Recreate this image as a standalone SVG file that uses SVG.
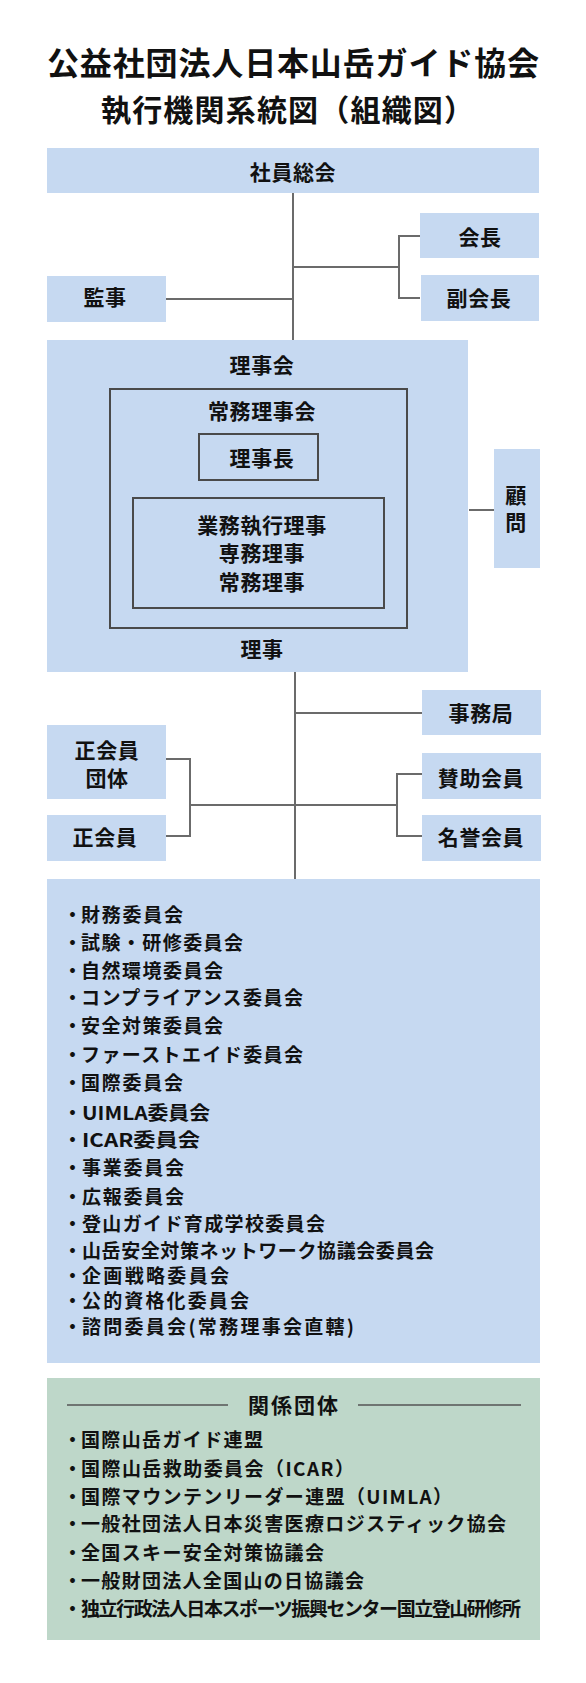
<svg xmlns="http://www.w3.org/2000/svg" width="586" height="1683" viewBox="0 0 586 1683">
<style>
text{font-family:"Noto Sans CJK JP","Noto Sans CJK SC",sans-serif;font-weight:700;fill:#111}
.box{fill:#c6d9f1}
.grn{fill:#bed7c9}
.inner{fill:none;stroke:#4a4a4a;stroke-width:2}
.lbl{font-size:21px;text-anchor:middle;letter-spacing:0.6px}
.item{font-size:19px}
.title{font-size:32px;text-anchor:start}
.conn line,.conn polyline{stroke:#6b6b6b;stroke-width:2;fill:none}
.rule{stroke:#555;stroke-width:1.5}
</style>
<rect width="586" height="1683" fill="#ffffff"/>

<g id="title">
<text class="title" x="47" y="75" textLength="492" lengthAdjust="spacing">公益社団法人日本山岳ガイド協会</text>
<text class="title" x="101" y="121" style="font-size:30px" textLength="373" lengthAdjust="spacing">執行機関系統図（組織図）</text>
</g>

<g class="conn" id="connectors">
<line x1="293" y1="193" x2="293" y2="340"/>
<line x1="166" y1="299" x2="293" y2="299"/>
<line x1="293" y1="267" x2="399" y2="267"/>
<polyline points="420,236 399,236 399,298 420,298"/>
<line x1="469" y1="510" x2="494" y2="510"/>
<line x1="295" y1="672" x2="295" y2="879"/>
<line x1="295" y1="713" x2="422" y2="713"/>
<line x1="190" y1="805" x2="397" y2="805"/>
<polyline points="166,759 190,759 190,836 166,836"/>
<polyline points="422,774 397,774 397,836 422,836"/>
</g>

<g id="shain-sokai">
<rect class="box" x="47" y="148" width="492" height="45"/>
<text class="lbl" x="293" y="180">社員総会</text>
</g>
<g id="kaicho">
<rect class="box" x="420" y="213" width="119" height="45"/>
<text class="lbl" x="480" y="245">会長</text>
</g>
<g id="fuku-kaicho">
<rect class="box" x="421" y="275" width="118" height="46"/>
<text class="lbl" x="479" y="306">副会長</text>
</g>
<g id="kanji">
<rect class="box" x="47" y="276" width="119" height="46"/>
<text class="lbl" x="105" y="305">監事</text>
</g>

<g id="rijikai">
<rect class="box" x="47" y="340" width="421" height="332"/>
<text class="lbl" x="262" y="373">理事会</text>
<text class="lbl" x="262" y="657">理事</text>
</g>
<g id="jomu-rijikai">
<rect class="inner" x="110" y="389" width="297" height="239"/>
<text class="lbl" x="262" y="419">常務理事会</text>
</g>
<g id="rijicho">
<rect class="inner" x="199" y="434" width="119" height="46"/>
<text class="lbl" x="262" y="466">理事長</text>
</g>
<g id="gyomu-shikko">
<rect class="inner" x="133" y="498" width="251" height="110"/>
<text class="lbl" x="262" y="533">業務執行理事</text>
<text class="lbl" x="262" y="561">専務理事</text>
<text class="lbl" x="262" y="590">常務理事</text>
</g>
<g id="komon">
<rect class="box" x="494" y="449" width="46" height="119"/>
<text class="lbl" x="516" y="503">顧</text>
<text class="lbl" x="516" y="530">問</text>
</g>

<g id="jimukyoku">
<rect class="box" x="422" y="690" width="119" height="45"/>
<text class="lbl" x="481" y="721">事務局</text>
</g>
<g id="sei-kaiin-dantai">
<rect class="box" x="47" y="725" width="119" height="74"/>
<text class="lbl" x="107" y="758">正会員</text>
<text class="lbl" x="107" y="786">団体</text>
</g>
<g id="sei-kaiin">
<rect class="box" x="47" y="815" width="119" height="46"/>
<text class="lbl" x="105" y="845">正会員</text>
</g>
<g id="sanjo-kaiin">
<rect class="box" x="422" y="753" width="119" height="46"/>
<text class="lbl" x="481" y="786">賛助会員</text>
</g>
<g id="meiyo-kaiin">
<rect class="box" x="422" y="815" width="119" height="46"/>
<text class="lbl" x="481" y="845">名誉会員</text>
</g>

<g id="iinkai">
<rect class="box" x="47" y="879" width="493" height="484"/>
<g class="item">
<text x="63" y="922">・</text><text x="81" y="922" textLength="102" lengthAdjust="spacing">財務委員会</text>
<text x="63" y="950">・</text><text x="81" y="950" textLength="162" lengthAdjust="spacing">試験・研修委員会</text>
<text x="63" y="978">・</text><text x="81" y="978" textLength="142" lengthAdjust="spacing">自然環境委員会</text>
<text x="63" y="1005">・</text><text x="81" y="1005" textLength="222" lengthAdjust="spacing">コンプライアンス委員会</text>
<text x="63" y="1033">・</text><text x="81" y="1033" textLength="142" lengthAdjust="spacing">安全対策委員会</text>
<text x="63" y="1062">・</text><text x="81" y="1062" textLength="222" lengthAdjust="spacing">ファーストエイド委員会</text>
<text x="63" y="1090">・</text><text x="81" y="1090" textLength="102" lengthAdjust="spacing">国際委員会</text>
<text x="63" y="1120">・</text><text x="82" y="1120" textLength="128" lengthAdjust="spacingAndGlyphs">UIMLA委員会</text>
<text x="63" y="1147">・</text><text x="82" y="1147" textLength="118" lengthAdjust="spacingAndGlyphs">ICAR委員会</text>
<text x="63" y="1175">・</text><text x="82" y="1175" textLength="102" lengthAdjust="spacing">事業委員会</text>
<text x="63" y="1204">・</text><text x="82" y="1204" textLength="102" lengthAdjust="spacing">広報委員会</text>
<text x="63" y="1231">・</text><text x="82" y="1231" textLength="243" lengthAdjust="spacing">登山ガイド育成学校委員会</text>
<text x="63" y="1258">・</text><text x="82" y="1258" textLength="352" lengthAdjust="spacing">山岳安全対策ネットワーク協議会委員会</text>
<text x="63" y="1283">・</text><text x="82" y="1283" textLength="147" lengthAdjust="spacing">企画戦略委員会</text>
<text x="63" y="1308">・</text><text x="82" y="1308" textLength="167" lengthAdjust="spacing">公的資格化委員会</text>
<text x="63" y="1334">・</text><text x="82" y="1334" textLength="272" lengthAdjust="spacing">諮問委員会(常務理事会直轄)</text>
</g>
</g>

<g id="kankei-dantai">
<rect class="grn" x="47" y="1378" width="493" height="262"/>
<line class="rule" x1="67" y1="1405" x2="228" y2="1405"/>
<line class="rule" x1="358" y1="1405" x2="521" y2="1405"/>
<text class="lbl" x="294" y="1413" style="letter-spacing:2px">関係団体</text>
<g class="item">
<text x="63" y="1447">・</text><text x="81" y="1447" textLength="182" lengthAdjust="spacing">国際山岳ガイド連盟</text>
<text x="63" y="1476">・</text><text x="81" y="1476" textLength="273" lengthAdjust="spacing">国際山岳救助委員会（ICAR）</text>
<text x="63" y="1504">・</text><text x="81" y="1504" textLength="371" lengthAdjust="spacing">国際マウンテンリーダー連盟（UIMLA）</text>
<text x="63" y="1531">・</text><text x="81" y="1531" textLength="425" lengthAdjust="spacing">一般社団法人日本災害医療ロジスティック協会</text>
<text x="63" y="1560">・</text><text x="81" y="1560" textLength="243" lengthAdjust="spacing">全国スキー安全対策協議会</text>
<text x="63" y="1588">・</text><text x="81" y="1588" textLength="283" lengthAdjust="spacing">一般財団法人全国山の日協議会</text>
<text x="63" y="1616">・</text><text x="81" y="1616" textLength="440" lengthAdjust="spacing">独立行政法人日本スポーツ振興センター国立登山研修所</text>
</g>
</g>
</svg>
